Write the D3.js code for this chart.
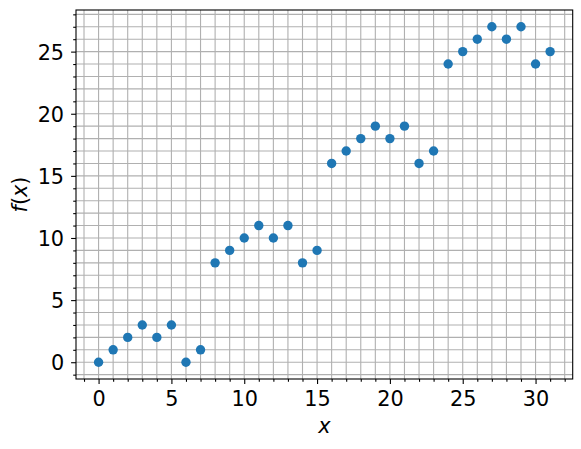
<!DOCTYPE html>
<html><head><meta charset="utf-8">
<script src="https://cdn.jsdelivr.net/npm/d3@7"></script>
<style>body{margin:0;background:#fff}svg{display:block}text{font-family:"DejaVu Sans",sans-serif}</style>
</head><body>
<svg id="c" width="581" height="449"></svg>
<script>
const xs = [0,1,2,3,4,5,6,7,8,9,10,11,12,13,14,15,16,17,18,19,20,21,22,23,24,25,26,27,28,29,30,31];
const ys = [0,1,2,3,2,3,0,1,8,9,10,11,10,11,8,9,16,17,18,19,18,19,16,17,24,25,26,27,26,27,24,25];
const xTicks = [0,5,10,15,20,25,30];
const yTicks = [0,5,10,15,20,25];
const data = xs.map((x,i)=>({x, y: ys[i]}));

const L=76, R=572.7, T=10, B=379, FS=20.8;
const svg = d3.select("#c");
const xMin=d3.min(xs), xMax=d3.max(xs), yMin=d3.min(ys), yMax=d3.max(ys);
const xm=(xMax-xMin)*0.05, ym=(yMax-yMin)*0.05;
const x = d3.scaleLinear().domain([xMin-xm, xMax+xm]).range([L,R]);
const y = d3.scaleLinear().domain([yMin-ym, yMax+ym]).range([B,T]);

const xMinor = d3.range(Math.ceil(x.domain()[0]), Math.floor(x.domain()[1])+1);
const yMinor = d3.range(Math.ceil(y.domain()[0]), Math.floor(y.domain()[1])+1);

const g = svg.append("g");
g.selectAll(".vg").data(xMinor).join("line")
  .attr("x1",d=>x(d)).attr("x2",d=>x(d)).attr("y1",T).attr("y2",B)
  .attr("stroke","#b0b0b0").attr("stroke-width",1.1);
g.selectAll(".hg").data(yMinor).join("line")
  .attr("y1",d=>y(d)).attr("y2",d=>y(d)).attr("x1",L).attr("x2",R)
  .attr("stroke","#b0b0b0").attr("stroke-width",1.1);

g.selectAll("circle").data(data).join("circle")
  .attr("cx",d=>x(d.x)).attr("cy",d=>y(d.y)).attr("r",4.7).attr("fill","#1f77b4");

const xa = svg.append("g").attr("transform",`translate(0,${B})`)
  .call(d3.axisBottom(x).tickValues(xTicks).tickSize(4.9).tickPadding(4).tickSizeOuter(0).tickFormat(d3.format("d")));
const xaMinor = svg.append("g").attr("transform",`translate(0,${B})`)
  .call(d3.axisBottom(x).tickValues(xMinor.filter(v=>!xTicks.includes(v))).tickSize(2.8).tickSizeOuter(0).tickFormat(""));
const ya = svg.append("g").attr("transform",`translate(${L},0)`)
  .call(d3.axisLeft(y).tickValues(yTicks).tickSize(4.9).tickPadding(7).tickSizeOuter(0).tickFormat(d3.format("d")));
const yaMinor = svg.append("g").attr("transform",`translate(${L},0)`)
  .call(d3.axisLeft(y).tickValues(yMinor.filter(v=>!yTicks.includes(v))).tickSize(2.8).tickSizeOuter(0).tickFormat(""));
[xa,xaMinor,ya,yaMinor].forEach(a=>{
  a.attr("font-size",FS).attr("font-family","DejaVu Sans");
  a.select(".domain").remove();
  a.selectAll(".tick line").attr("stroke","#000").attr("stroke-width",1.1);
  a.selectAll("text").attr("font-size",FS).attr("fill","#000");
});
xa.selectAll("text").attr("dy",null).attr("y",null).attr("dominant-baseline","auto").attr("transform","translate(0,26.5)");
ya.selectAll("text").attr("dy","0.36em");

svg.append("rect").attr("x",L).attr("y",T).attr("width",R-L).attr("height",B-T)
  .attr("fill","none").attr("stroke","#000").attr("stroke-width",1.1);

svg.append("text").attr("x",(L+R)/2).attr("y",433).attr("text-anchor","middle")
  .attr("font-size",FS).attr("font-style","italic").text("x");
const yl = svg.append("text").attr("transform",`translate(27,${(T+B)/2}) rotate(-90)`)
  .attr("text-anchor","middle").attr("font-size",FS);
yl.append("tspan").attr("font-style","italic").text("f");
yl.append("tspan").text("(");
yl.append("tspan").attr("font-style","italic").text("x");
yl.append("tspan").text(")");
</script>
</body></html>
